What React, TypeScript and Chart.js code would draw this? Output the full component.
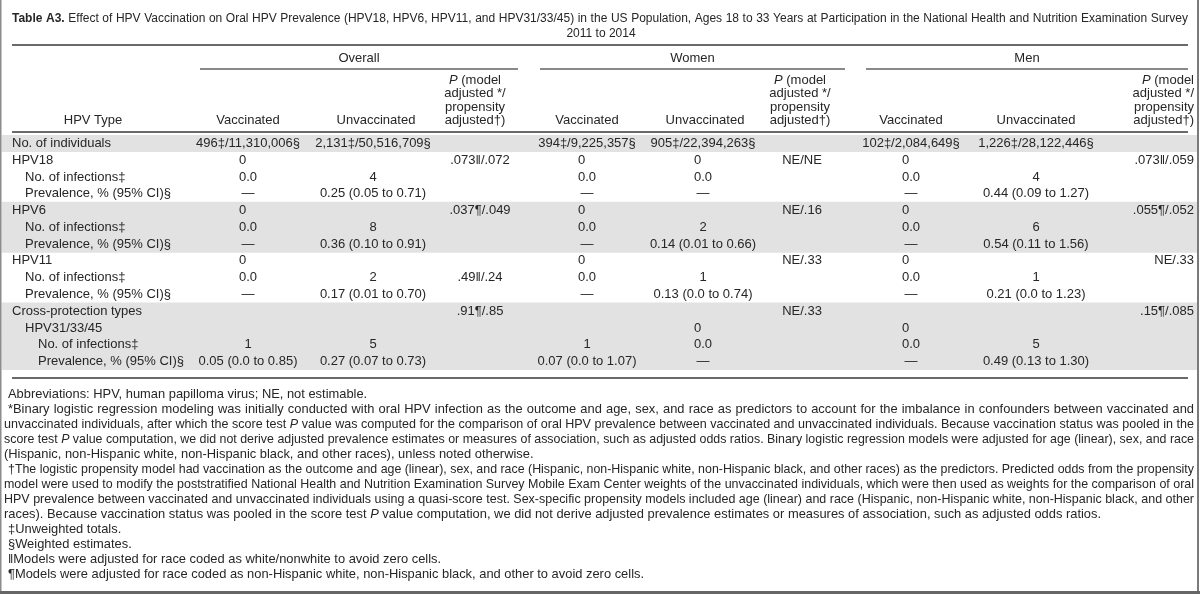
import React, { useEffect, useRef } from 'react';
import { Chart, registerables } from 'chart.js';

Chart.register(...registerables);

// ---------------- DATA ----------------
const titleBold = 'Table A3.';
const titleLine1 =
  'Effect of HPV Vaccination on Oral HPV Prevalence (HPV18, HPV6, HPV11, and HPV31/33/45) in the US Population, Ages 18 to 33 Years at Participation in the National Health and Nutrition Examination Survey';
const titleLine2 = '2011 to 2014';

const groupLabels = ['Overall', 'Women', 'Men'];
const columnHeaders = ['Vaccinated', 'Unvaccinated'];
const pHeaderLines = ['P (model', 'adjusted */', 'propensity', 'adjusted†)'];
const rowHeader = 'HPV Type';

const rowLabels = [
  'No. of individuals',
  'HPV18',
  'No. of infections‡',
  'Prevalence, % (95% CI)§',
  'HPV6',
  'No. of infections‡',
  'Prevalence, % (95% CI)§',
  'HPV11',
  'No. of infections‡',
  'Prevalence, % (95% CI)§',
  'Cross-protection types',
  'HPV31/33/45',
  'No. of infections‡',
  'Prevalence, % (95% CI)§',
];
const rowIndent = [0, 0, 1, 1, 0, 1, 1, 0, 1, 1, 0, 1, 2, 2];
const shadedRows = [true, false, false, false, true, true, true, false, false, false, true, true, true, true];

const overallVaccinated = ['496‡/11,310,006§', '0', '0.0', '—', '0', '0.0', '—', '0', '0.0', '—', '', '', '1', '0.05 (0.0 to 0.85)'];
const overallUnvaccinated = ['2,131‡/50,516,709§', '', '4', '0.25 (0.05 to 0.71)', '', '8', '0.36 (0.10 to 0.91)', '', '2', '0.17 (0.01 to 0.70)', '', '', '5', '0.27 (0.07 to 0.73)'];
const overallP = ['', '.073‖/.072', '', '', '.037¶/.049', '', '', '', '.49‖/.24', '', '.91¶/.85', '', '', ''];
const womenVaccinated = ['394‡/9,225,357§', '0', '0.0', '—', '0', '0.0', '—', '0', '0.0', '—', '', '', '1', '0.07 (0.0 to 1.07)'];
const womenUnvaccinated = ['905‡/22,394,263§', '0', '0.0', '—', '', '2', '0.14 (0.01 to 0.66)', '', '1', '0.13 (0.0 to 0.74)', '', '0', '0.0', '—'];
const womenP = ['', 'NE/NE', '', '', 'NE/.16', '', '', 'NE/.33', '', '', 'NE/.33', '', '', ''];
const menVaccinated = ['102‡/2,084,649§', '0', '0.0', '—', '0', '0.0', '—', '0', '0.0', '—', '', '0', '0.0', '—'];
const menUnvaccinated = ['1,226‡/28,122,446§', '', '4', '0.44 (0.09 to 1.27)', '', '6', '0.54 (0.11 to 1.56)', '', '1', '0.21 (0.0 to 1.23)', '', '', '5', '0.49 (0.13 to 1.30)'];
const menP = ['', '.073‖/.059', '', '', '.055¶/.052', '', '', 'NE/.33', '', '', '.15¶/.085', '', '', ''];

const footnotes = [
  'Abbreviations: HPV, human papilloma virus; NE, not estimable.',
  '*Binary logistic regression modeling was initially conducted with oral HPV infection as the outcome and age, sex, and race as predictors to account for the imbalance in confounders between vaccinated and',
  'unvaccinated individuals, after which the score test P value was computed for the comparison of oral HPV prevalence between vaccinated and unvaccinated individuals. Because vaccination status was pooled in the',
  'score test P value computation, we did not derive adjusted prevalence estimates or measures of association, such as adjusted odds ratios. Binary logistic regression models were adjusted for age (linear), sex, and race',
  '(Hispanic, non-Hispanic white, non-Hispanic black, and other races), unless noted otherwise.',
  '†The logistic propensity model had vaccination as the outcome and age (linear), sex, and race (Hispanic, non-Hispanic white, non-Hispanic black, and other races) as the predictors. Predicted odds from the propensity',
  'model were used to modify the poststratified National Health and Nutrition Examination Survey Mobile Exam Center weights of the unvaccinated individuals, which were then used as weights for the comparison of oral',
  'HPV prevalence between vaccinated and unvaccinated individuals using a quasi-score test. Sex-specific propensity models included age (linear) and race (Hispanic, non-Hispanic white, non-Hispanic black, and other',
  'races). Because vaccination status was pooled in the score test P value computation, we did not derive adjusted prevalence estimates or measures of association, such as adjusted odds ratios.',
  '‡Unweighted totals.',
  '§Weighted estimates.',
  '‖Models were adjusted for race coded as white/nonwhite to avoid zero cells.',
  '¶Models were adjusted for race coded as non-Hispanic white, non-Hispanic black, and other to avoid zero cells.',
];
const footnoteJustified = [false, true, true, true, false, true, true, true, false, false, false, false, false];
const footnoteIndented = [true, true, false, false, false, true, false, false, false, true, true, true, true];

// ---------------- LAYOUT / STYLE ----------------
const W = 1200;
const H = 594;
const FAM = '"Liberation Sans", Arial, Helvetica, sans-serif';
const FS_TITLE = 12;
const FS = 13;
const FS_FOOT = 12.9;
const INK = '#262626';
const BAND = '#e2e2e2';

const LEFT = 12;
const RIGHT = 1188;
const TEXT_RIGHT = 1194;
const TITLE_Y = [19, 34];
const RULE1_Y = 45;
const GROUP_Y = 58;
const GROUP_LINE_Y = 69;
const PHEAD_Y = [80, 93.5, 107, 120.5];
const HEADER_RULE_Y = 132;
const TABLE_TOP = 135;
const TABLE_BOTTOM = 370;
const BODY_RULE_Y = 378;
const FOOT_Y0 = 394;
const FOOT_DY = 15;
const FOOT_X_INDENT = 8;
const FOOT_X = 4;
const INDENT_STEP = 13;

const groupSpans = [
  [200, 518],
  [540, 845],
  [866, RIGHT],
];
type Col = { values: string[]; x: number; align: 'center' | 'right'; headerX: number; headerAlign: 'center' | 'right' };
const columns: Col[] = [
  { values: overallVaccinated, x: 248, align: 'center', headerX: 248, headerAlign: 'center' },
  { values: overallUnvaccinated, x: 373, align: 'center', headerX: 376, headerAlign: 'center' },
  { values: overallP, x: 480, align: 'center', headerX: 475, headerAlign: 'center' },
  { values: womenVaccinated, x: 587, align: 'center', headerX: 587, headerAlign: 'center' },
  { values: womenUnvaccinated, x: 703, align: 'center', headerX: 705, headerAlign: 'center' },
  { values: womenP, x: 802, align: 'center', headerX: 800, headerAlign: 'center' },
  { values: menVaccinated, x: 911, align: 'center', headerX: 911, headerAlign: 'center' },
  { values: menUnvaccinated, x: 1036, align: 'center', headerX: 1036, headerAlign: 'center' },
  { values: menP, x: TEXT_RIGHT, align: 'right', headerX: TEXT_RIGHT, headerAlign: 'right' },
];

type Tok = { t: string; s: '' | 'b' | 'i' };
const fontOf = (s: string, size: number) => `${s === 'b' ? 'bold ' : s === 'i' ? 'italic ' : ''}${size}px ${FAM}`;
const toTokens = (str: string): Tok[] =>
  str.split(' ').filter((w) => w.length > 0).map((w) => ({ t: w, s: w === 'P' ? 'i' : '' }));

function drawTokens(
  ctx: CanvasRenderingContext2D,
  toks: Tok[],
  x: number,
  y: number,
  align: 'left' | 'center' | 'right',
  size: number,
  justifyTo?: number
) {
  const raw = toks.map((tk) => {
    ctx.font = fontOf(tk.s, size);
    return ctx.measureText(tk.t).width;
  });
  ctx.font = fontOf('', size);
  const sp = ctx.measureText(' ').width;
  const sumRaw = raw.reduce((a, b) => a + b, 0);
  const natural = sumRaw + sp * (toks.length - 1);
  let sx = 1;
  let gap = sp;
  let start = x;
  if (justifyTo !== undefined && toks.length > 1) {
    const avail = justifyTo - x;
    if (natural > avail) {
      sx = avail / natural;
      gap = sp * sx;
    } else {
      gap = (avail - sumRaw) / (toks.length - 1);
    }
  } else if (align === 'center') start = x - natural / 2;
  else if (align === 'right') start = x - natural;
  let cx = start;
  toks.forEach((tk, i) => {
    ctx.font = fontOf(tk.s, size);
    ctx.save();
    ctx.translate(cx, y);
    ctx.scale(sx, 1);
    ctx.textAlign = 'left';
    ctx.textBaseline = 'middle';
    ctx.fillStyle = INK;
    ctx.fillText(tk.t, 0, 0);
    ctx.restore();
    cx += raw[i] * sx + gap;
  });
}

function drawText(ctx: CanvasRenderingContext2D, s: string, x: number, y: number, align: 'left' | 'center' | 'right', size = FS) {
  ctx.font = fontOf('', size);
  ctx.textAlign = align;
  ctx.textBaseline = 'middle';
  ctx.fillStyle = INK;
  ctx.fillText(s, x, y);
}

function hRule(ctx: CanvasRenderingContext2D, x0: number, x1: number, y: number, t: number, color = '#2b2b2b') {
  ctx.fillStyle = color;
  ctx.fillRect(x0, y - t / 2, x1 - x0, t);
}

const tablePlugin = {
  id: 'tablePlugin',
  beforeDraw(chart: any) {
    const ctx = chart.ctx as CanvasRenderingContext2D;
    ctx.save();
    ctx.fillStyle = '#ffffff';
    ctx.fillRect(0, 0, W, H);
    ctx.restore();
  },
  afterDraw(chart: any) {
    const ctx = chart.ctx as CanvasRenderingContext2D;
    const xs = chart.scales.x;
    const ys = chart.scales.y;
    const px = (v: number) => xs.getPixelForValue(v);
    ctx.save();

    // Title
    const t1: Tok[] = [...titleBold.split(' ').map((w) => ({ t: w, s: 'b' as const })), ...toTokens(titleLine1)];
    drawTokens(ctx, t1, LEFT, TITLE_Y[0], 'left', FS_TITLE, RIGHT);
    drawText(ctx, titleLine2, 601, TITLE_Y[1], 'center', FS_TITLE);
    hRule(ctx, LEFT, RIGHT, RULE1_Y, 1.4);

    // Group headers
    groupLabels.forEach((g, i) => {
      const [a, b] = groupSpans[i];
      drawText(ctx, g, (px(a) + px(b)) / 2, GROUP_Y, 'center');
      hRule(ctx, px(a), px(b), GROUP_LINE_Y, 1.1);
    });

    // Column headers
    drawText(ctx, rowHeader, 93, PHEAD_Y[3], 'center');
    columns.forEach((c, ci) => {
      if (ci % 3 === 2) {
        pHeaderLines.forEach((ln, li) => drawTokens(ctx, toTokens(ln), px(c.headerX), PHEAD_Y[li], c.headerAlign, FS));
      } else {
        drawText(ctx, columnHeaders[ci % 3], px(c.headerX), PHEAD_Y[3], 'center');
      }
    });
    hRule(ctx, LEFT, RIGHT, HEADER_RULE_Y, 1.4);

    // Body cells
    ctx.font = fontOf('', FS);
    const zeroW = ctx.measureText('0.0').width;
    rowLabels.forEach((lab, r) => {
      const y = ys.getPixelForValue(r);
      drawText(ctx, lab, LEFT + rowIndent[r] * INDENT_STEP, y, 'left');
      columns.forEach((c) => {
        const v = c.values[r];
        if (!v) return;
        if (v === '0') drawText(ctx, v, px(c.x) - zeroW / 2, y, 'left');
        else drawText(ctx, v, px(c.x), y, c.align);
      });
    });
    hRule(ctx, LEFT, RIGHT, BODY_RULE_Y, 1.4);

    // Footnotes
    footnotes.forEach((f, i) => {
      const x = footnoteIndented[i] ? FOOT_X_INDENT : FOOT_X;
      drawTokens(ctx, toTokens(f), x, FOOT_Y0 + i * FOOT_DY, 'left', FS_FOOT, footnoteJustified[i] ? TEXT_RIGHT : undefined);
    });

    // Frame
    ctx.fillStyle = '#8c8c8c';
    ctx.fillRect(0, 0, 1.5, H);
    ctx.fillStyle = '#7a7a7a';
    ctx.fillRect(W - 3, 0, 2, H);
    ctx.fillStyle = '#666666';
    ctx.fillRect(0, H - 3, W, 3);
    ctx.restore();
  },
};

export default function App() {
  const ref = useRef<HTMLCanvasElement | null>(null);
  useEffect(() => {
    const canvas = ref.current;
    if (!canvas) return;
    const chart = new Chart(canvas, {
      type: 'bar',
      data: {
        labels: rowLabels,
        datasets: [
          {
            data: shadedRows.map((s) => (s ? [2, W - 3] : null)) as any,
            backgroundColor: BAND,
            borderWidth: 0,
            barPercentage: 1,
            categoryPercentage: 1,
          },
        ],
      },
      options: {
        indexAxis: 'y',
        responsive: false,
        animation: false,
        devicePixelRatio: 1,
        events: [],
        layout: { padding: { top: TABLE_TOP, bottom: H - TABLE_BOTTOM, left: 0, right: 0 } },
        scales: {
          x: { type: 'linear', min: 0, max: W, display: false },
          y: { type: 'category', display: false, offset: true },
        },
        plugins: { legend: { display: false }, tooltip: { enabled: false }, title: { display: false } },
      },
      plugins: [tablePlugin],
    });
    return () => chart.destroy();
  }, []);
  return (
    <div style={{ position: 'absolute', left: 0, top: 0, width: W, height: H, background: '#fff' }}>
      <canvas ref={ref} width={W} height={H} style={{ display: 'block', width: W, height: H }} />
    </div>
  );
}
